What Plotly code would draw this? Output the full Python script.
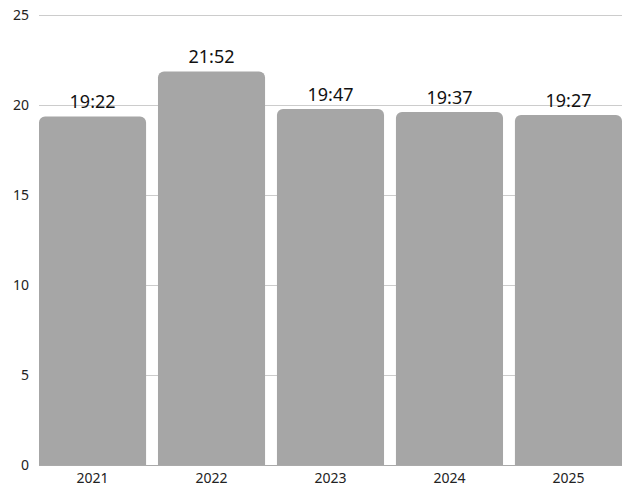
import plotly.graph_objects as go

years = ["2021", "2022", "2023", "2024", "2025"]
time_labels = ["19:22", "21:52", "19:47", "19:37", "19:27"]
minutes = [19 + 22/60, 21 + 52/60, 19 + 47/60, 19 + 37/60, 19 + 27/60]
y_ticks = [0, 5, 10, 15, 20, 25]

fig = go.Figure(go.Bar(
    x=years, y=minutes, text=time_labels, textposition="outside",
    textfont=dict(size=18, color="#111111"),
    marker=dict(color="#a6a6a6", line=dict(width=0)),
    cliponaxis=False,
))
fig.update_layout(
    width=626, height=491,
    margin=dict(l=39, r=4, t=14, b=22),
    paper_bgcolor="white", plot_bgcolor="white",
    bargap=0.1, barcornerradius=6,
    font=dict(family="Noto Sans", size=14, color="#222222"),
    showlegend=False,
)
fig.update_yaxes(range=[0, 25.06], tickvals=y_ticks, showgrid=True, gridcolor="#cccccc",
                 gridwidth=1, zeroline=False, showline=False, ticks="", ticklabelstandoff=9,
                 tickfont=dict(size=14))
fig.update_xaxes(range=[-0.45, 4.45], showline=True, linecolor="#aaaaaa", linewidth=1,
                 ticks="", tickfont=dict(size=14))
fig.write_html("out.html", config={"displayModeBar": False})

with open("out.html", "r", encoding="utf-8") as f:
    html = f.read()
html = html.replace("<head>", "<head><style>html,body{margin:0;padding:0;}</style>", 1)
with open("out.html", "w", encoding="utf-8") as f:
    f.write(html)
